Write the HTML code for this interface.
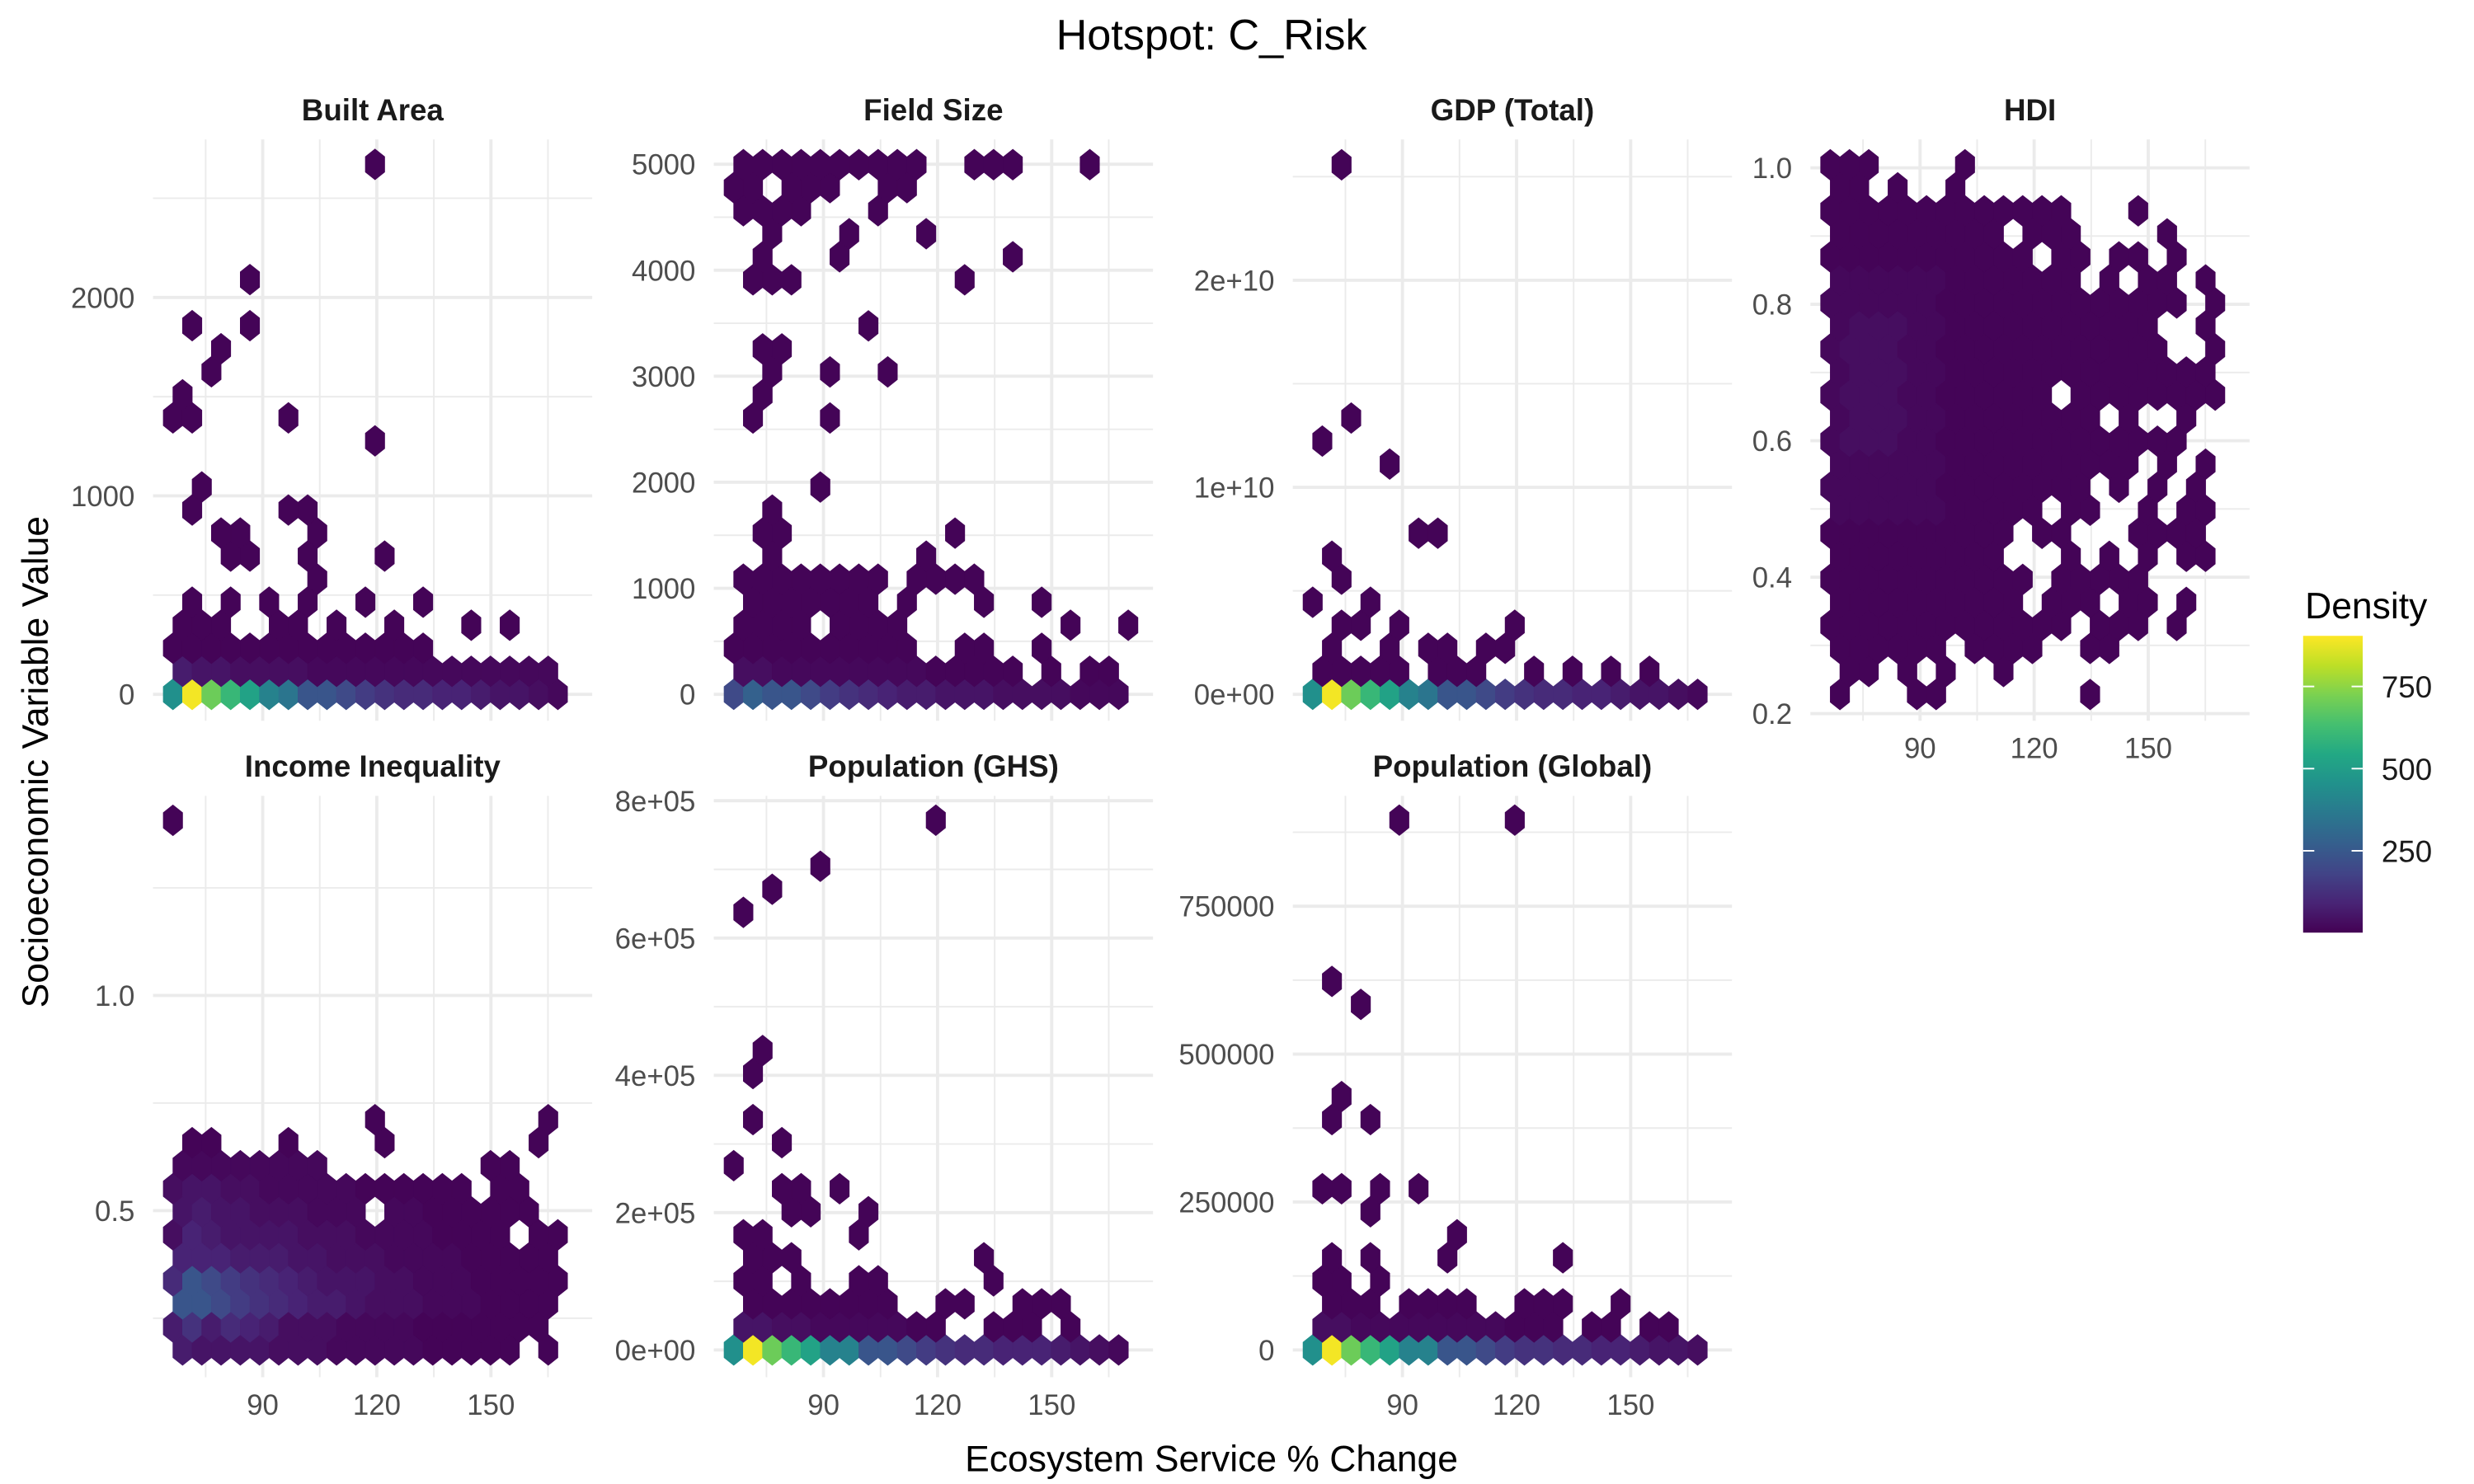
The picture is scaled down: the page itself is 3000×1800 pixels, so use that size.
<!DOCTYPE html>
<html><head><meta charset="utf-8"><title>Hotspot: C_Risk</title>
<style>html,body{margin:0;padding:0;background:#fff;}svg{display:block;}</style></head>
<body>
<svg id="chart" xmlns="http://www.w3.org/2000/svg" width="3000" height="1800" viewBox="0 0 1552 931" preserveAspectRatio="none" font-family="'Liberation Sans', sans-serif">
<rect x="0" y="0" width="1552" height="931" fill="#fff"/>
<text x="760" y="31" text-anchor="middle" font-size="27" fill="#000">Hotspot: C_Risk</text>
<text x="760" y="923" text-anchor="middle" font-size="23" fill="#000">Ecosystem Service % Change</text>
<text transform="translate(30,478) rotate(-90)" text-anchor="middle" font-size="23" fill="#000">Socioeconomic Variable Value</text>
<g id="panels"></g>
<g id="legend"></g>
</svg>
<script>
// ---- count level codes (hex bin densities) ----
const levelCodes = ['a','b','c','d','e','f','g','h','i','j','k','l','m','n','o','p','q','r','s'];
const levelCounts = [8,20,35,50,70,90,110,130,160,200,240,280,350,400,450,520,600,700,890];

// ---- hex bin rows (row j from bottom; char per x-bin column, '.' = empty) ----
const builtAreaRows = [
"osrqpnmkkjihggffeddcb","eddccccbbbbbbbbbbbbb","aaaaaaaaaaaaaa","aaa..aa.a..a...a.a",
".a.a.a.a..a..a",".......a","...aa..a...a","..aa...a",".a....aa",".a","",
"..........a","aa....a","a","..a","..a",".a..a","","....a","","","","","..........a"];
const fieldSizeRows = [
"jlkkjihgfeedddccccbbb","ccbbbbbbbbaaaaa.a.aa","aaaaaaaaaa..aa..a","aaaa.aaaa........a..a",
".aaaaaaa.a...a..a","aaaaaaaa.aaaa","..a.......a",".aa........a","..a","....a","","",
".a...a",".a","..a..a..a",".aa",".......a","",".aaa........a",".a...a........a",
"..a...a...a","aaaa...a","aa.aaa..aa","aaaaaaaaaa..aaa...a"];
const gdpRows = [
"osrqpnmkkjihggffeddcb","aaaaa.aaa..a.a.a.a",".a..a.aa.aa",".aa.a.....a","a..a",".a",".a",
".....aa","","","....a","a","..a","","","","","","","","","","",".a"];
const hdiRows = [
"a...aa.......a",".aa.a.a..a","aaaaaa.aaaa..aa","aaaaaaaaaaaaa.aaa.a",
"aaaaaaaaaa.aaa.aa.a","aaaaaaaaaaa.aaaaa","aaaaaaaaa...a.a.a.aa","aaaaaaaaaa.aa...aaaa",
"bbbbbbaaaaa.aa..a.aa","bbbbbbaaaaaaaa.a.a.a","bbbbbbaaaaaaaaaa.a.a","bcccbbaaaaaaaaaaaaa",
"bcccbbaaaaaaaa.a..a","bcccbbaaaaaa.aaaaaaaa","bcccbbaaaaaaaaaaaaaa","bcccbbaaaaaaaaaaaa..a",
"bcccbbaaaaaaaaaaa..a","bbbbbbaaaaaaaaaaaaa.a","bbbbbbaaaaaaa.a.aa.a","aaaaaaaaaaa.aa.aa.a",
"aaaaaaaaa.aaa....a","aaaaaaaaaaaaa...a","aa.a..a","aaa....a"];
const incomeRows = [
"eddddcccbbbbbaaaaa.a","ehegfecccbbbbaaaaaaa","kkjihgfeedcccbbbaaaa","gkjihgfedddccbbbaaaaa",
"fffeeeddcccbbbbaaaaa","cfeddddcccbbbbaaaa.aa","deddcccbbb.bbaaaaaa","cddccbbbbbaaaaaa.aa",
"bbbbbbbb........aa",".aa...a....a.......a","..........a........a","","","","","","","","","","","","","a"];
const popGhsRows = [
"osrqpnnkkjihggfffedcb","ddccbbbbbaa..aaa.a",".aaaaaaaa..aa..aaa","aa.a..aa.....a",".aaa.........a",
"aa....a","...aa..a","..aa.a","a","..a",".a","",".a",".a","","","","","","a","..a","....a","","..........a"];
const popGlobalRows = [
"osrqpnnkkjihhggffeddc","ccbbbbbbbbaaa.aa.aa",".aaa.aaaa..aaa..a","aa.a",".a.a...a.....a",".......a","...a",
"aa.a.a","","",".a.a",".a","","","","..a",".a","","","","","","","....a.....a"];

// ---- tick values and labels ----
const builtTicks = [0,1000,2000];           const builtTickLabels = ["0","1000","2000"];
const fieldTicks = [0,1000,2000,3000,4000,5000]; const fieldTickLabels = ["0","1000","2000","3000","4000","5000"];
const gdpTicks = [0,1e10,2e10];             const gdpTickLabels = ["0e+00","1e+10","2e+10"];
const hdiTicks = [0.2,0.4,0.6,0.8,1.0];     const hdiTickLabels = ["0.2","0.4","0.6","0.8","1.0"];
const incomeTicks = [0.5,1.0];              const incomeTickLabels = ["0.5","1.0"];
const ghsTicks = [0,2e5,4e5,6e5,8e5];       const ghsTickLabels = ["0e+00","2e+05","4e+05","6e+05","8e+05"];
const globalTicks = [0,250000,500000,750000]; const globalTickLabels = ["0","250000","500000","750000"];
const xTicks = [90,120,150];                const xTickLabels = ["90","120","150"];
const xMinorTicks = [75,105,135,165];
const legendTicks = [250,500,750];          const legendTickLabels = ["250","500","750"];

// ---- layout / scale config ----
const NS = "http://www.w3.org/2000/svg";
const colX90 = [164.8, 516.6, 879.8, 1204.5];
const PX_PER_X = 2.386;
const rowTop = [87.5, 499.3], rowBottom = [452.2, 864];
const X_BIN0 = 66.4, X_BINW = 5.06;
const COUNT_MAX = 904;

function lin(refV, refPx, pxPerUnit){ return v => refPx - (v - refV) * pxPerUnit; }

const panels = [
 {name:'built-area', title:'Built Area', col:0, row:0, rows:builtAreaRows, y:lin(0,435.6,0.1245), ppu:0.1245, bin0:0, step:116.1, aParity:0,
  ticks:builtTicks, labels:builtTickLabels, minor:[500,1500,2500], xlab:false},
 {name:'field-size', title:'Field Size', col:1, row:0, rows:fieldSizeRows, y:lin(0,435.6,0.06652), ppu:0.06652, bin0:0, step:217.2, aParity:0,
  ticks:fieldTicks, labels:fieldTickLabels, minor:[500,1500,2500,3500,4500], xlab:false},
 {name:'gdp-total', title:'GDP (Total)', col:2, row:0, rows:gdpRows, y:lin(0,435.6,1.299e-8), ppu:1.299e-8, bin0:0, step:1.112e9, aParity:0,
  ticks:gdpTicks, labels:gdpTickLabels, minor:[5e9,1.5e10,2.5e10], xlab:false},
 {name:'hdi', title:'HDI', col:3, row:0, rows:hdiRows, y:lin(0.2,447.7,428), ppu:428, bin0:0.228, step:0.03376, aParity:1,
  ticks:hdiTicks, labels:hdiTickLabels, minor:[0.3,0.5,0.7,0.9], xlab:true},
 {name:'income-inequality', title:'Income Inequality', col:0, row:1, rows:incomeRows, y:lin(0.5,759.5,270), ppu:270, bin0:0.1763, step:0.0535, aParity:1,
  ticks:incomeTicks, labels:incomeTickLabels, minor:[0.25,0.75,1.25], xlab:true},
 {name:'population-ghs', title:'Population (GHS)', col:1, row:1, rows:popGhsRows, y:lin(0,846.9,4.307e-4), ppu:4.307e-4, bin0:0, step:33550, aParity:0,
  ticks:ghsTicks, labels:ghsTickLabels, minor:[1e5,3e5,5e5,7e5], xlab:true},
 {name:'population-global', title:'Population (Global)', col:2, row:1, rows:popGlobalRows, y:lin(0,846.9,3.712e-4), ppu:3.712e-4, bin0:0, step:38930, aParity:0,
  ticks:globalTicks, labels:globalTickLabels, minor:[125000,375000,625000,875000], xlab:true}
];

const vir = ["#440154","#482475","#414487","#355f8d","#2a788e","#21918c","#22a884","#44bf70","#7ad151","#bddf26","#fde725"];
function hex2rgb(h){return [1,3,5].map(k=>parseInt(h.substr(k,2),16));}
function viridis(t){
  t=Math.max(0,Math.min(1,t)); const s=t*10; const k=Math.min(9,Math.floor(s)); const f=s-k;
  const a=hex2rgb(vir[k]), b=hex2rgb(vir[k+1]);
  return "rgb("+a.map((v,n)=>Math.round(v+(b[n]-v)*f)).join(",")+")";
}
function mk(tag, attrs, parent){
  const el=document.createElementNS(NS,tag);
  for(const k in attrs) el.setAttribute(k, attrs[k]);
  parent.appendChild(el); return el;
}

const root=document.getElementById('panels');
panels.forEach(p=>{
  const g=mk('g',{},root);
  
  
  const x90=colX90[p.col];
  const xs=v=>x90+(v-90)*PX_PER_X;
  const left=x90-68.8, right=x90+206.7, top=rowTop[p.row], bot=rowBottom[p.row];
  p.minor.forEach(v=>{const yy=p.y(v); if(yy<top||yy>bot) return;
    const l=mk('line',{x1:left,x2:right,y1:yy,y2:yy,stroke:'#ebebeb','stroke-width':1},g);
     });
  xMinorTicks.forEach(v=>{const xx=xs(v);
    const l=mk('line',{x1:xx,x2:xx,y1:top,y2:bot,stroke:'#ebebeb','stroke-width':1},g);
     });
  p.ticks.forEach((v,k)=>{const yy=p.y(v);
    const l=mk('line',{x1:left,x2:right,y1:yy,y2:yy,stroke:'#ebebeb','stroke-width':2},g);
     
    const t=mk('text',{x:left-11.5,y:yy+6.5,'text-anchor':'end','font-size':18,fill:'#4d4d4d'},g);
    t.textContent=p.labels[k];
     });
  xTicks.forEach((v,k)=>{const xx=xs(v);
    const l=mk('line',{x1:xx,x2:xx,y1:top,y2:bot,stroke:'#ebebeb','stroke-width':2},g);
     
    if(p.xlab){const t=mk('text',{x:xx,y:bot+23.5,'text-anchor':'middle','font-size':18,fill:'#4d4d4d'},g);
      t.textContent=xTickLabels[k];
       }});
  const st=mk('text',{x:(left+right)/2,y:top-12,'text-anchor':'middle','font-size':19,'font-weight':'bold',fill:'#1a1a1a'},g);
  st.textContent=p.title;
   
  const pitch=p.step*p.ppu; const hw=X_BINW*PX_PER_X/2;
  p.rows.forEach((str,j)=>{
    const xStart = (j%2===p.aParity)? X_BIN0 : X_BIN0+X_BINW/2;
    const cy=p.y(p.bin0+j*p.step);
    for(let i=0;i<str.length;i++){
      const c=str[i]; const li=levelCodes.indexOf(c); if(li<0) continue;
      const count=levelCounts[li];
      const cx=xs(xStart+i*X_BINW);
      const pts=[[0,-2*pitch/3],[hw,-pitch/3],[hw,pitch/3],[0,2*pitch/3],[-hw,pitch/3],[-hw,-pitch/3]]
        .map(q=>(cx+q[0]).toFixed(2)+','+(cy+q[1]).toFixed(2)).join(' ');
      const col=viridis((count-1)/(COUNT_MAX-1));
      const h=mk('polygon',{points:pts,fill:col,stroke:col,'stroke-width':0.4},g);
      
      
    }
  });
});

const lg=document.getElementById('legend');
const defs=mk('defs',{},lg);
const grad=mk('linearGradient',{id:'vgrad',x1:0,y1:1,x2:0,y2:0},defs);
vir.forEach((c,k)=>mk('stop',{offset:(k*10)+'%','stop-color':c},grad));
const lx0=1444.8, lx1=1482.2, ly0=398.9, ly1=585.1;
const ls=v=>ly1-(v-1)/(COUNT_MAX-1)*(ly1-ly0);
const lt=mk('text',{x:1446,y:388,'font-size':23,fill:'#000'},lg);
lt.textContent='Density';
 
const bar=mk('rect',{x:lx0,y:ly0,width:lx1-lx0,height:ly1-ly0,fill:'url(#vgrad)'},lg);
 
legendTicks.forEach((v,k)=>{const yy=ls(v);
  const a=mk('line',{x1:lx0,x2:lx0+7,y1:yy,y2:yy,stroke:'#fff','stroke-width':1},lg);
   
  const b=mk('line',{x1:lx1-7,x2:lx1,y1:yy,y2:yy,stroke:'#fff','stroke-width':1},lg);
   
  const t=mk('text',{x:1494,y:yy+7,'font-size':19,fill:'#1a1a1a'},lg);
  t.textContent=legendTickLabels[k];
   });
</script>
</body></html>
